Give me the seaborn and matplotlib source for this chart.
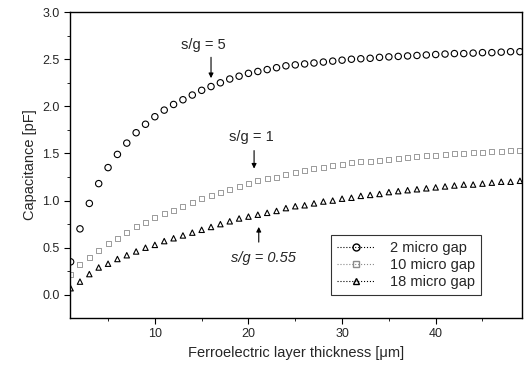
import matplotlib
matplotlib.use("Agg")
import matplotlib.pyplot as plt
from matplotlib.lines import Line2D
import seaborn as sns
import pandas as pd
import numpy as np

# Data
thickness = list(range(1, 50))

gap_2 = [0.35, 0.70, 0.97, 1.18, 1.35, 1.49, 1.61, 1.72, 1.81, 1.89,
         1.96, 2.02, 2.07, 2.12, 2.17, 2.21, 2.25, 2.29, 2.32, 2.35,
         2.37, 2.39, 2.41, 2.43, 2.44, 2.45, 2.46, 2.47, 2.48, 2.49,
         2.50, 2.505, 2.51, 2.52, 2.525, 2.53, 2.535, 2.54, 2.545, 2.55,
         2.555, 2.56, 2.56, 2.565, 2.57, 2.57, 2.575, 2.58, 2.58]

gap_10 = [0.22, 0.32, 0.40, 0.47, 0.54, 0.60, 0.66, 0.72, 0.77, 0.82,
          0.86, 0.90, 0.94, 0.98, 1.02, 1.05, 1.09, 1.12, 1.15, 1.18,
          1.21, 1.23, 1.25, 1.28, 1.30, 1.32, 1.34, 1.35, 1.37, 1.38,
          1.40, 1.41, 1.42, 1.43, 1.44, 1.45, 1.46, 1.47, 1.48, 1.48,
          1.49, 1.50, 1.50, 1.51, 1.51, 1.52, 1.52, 1.53, 1.53]

gap_18 = [0.07, 0.14, 0.22, 0.29, 0.33, 0.38, 0.42, 0.46, 0.50, 0.53,
          0.57, 0.60, 0.63, 0.66, 0.69, 0.72, 0.75, 0.78, 0.81, 0.83,
          0.85, 0.87, 0.89, 0.92, 0.94, 0.95, 0.97, 0.99, 1.00, 1.02,
          1.03, 1.05, 1.06, 1.07, 1.09, 1.10, 1.11, 1.12, 1.13, 1.14,
          1.15, 1.16, 1.17, 1.17, 1.18, 1.19, 1.20, 1.20, 1.21]

series_labels = ["2 micro gap", "10 micro gap", "18 micro gap"]

sns.set_style("ticks")
plt.rcParams['font.family'] = ['Liberation Sans', 'DejaVu Sans']

df = pd.DataFrame({"t": thickness, "g2": gap_2, "g10": gap_10, "g18": gap_18})

fig = plt.figure(figsize=(5.26, 3.67), dpi=100)
ax = fig.add_axes([0.133, 0.134, 0.859, 0.833])

sns.scatterplot(data=df, x="t", y="g2", marker="o", s=21, facecolors="none",
                edgecolor="black", linewidth=0.8, ax=ax)
sns.scatterplot(data=df, x="t", y="g10", marker="s", s=13, facecolors="none",
                edgecolor="#8a8a8a", linewidth=0.6, ax=ax)
sns.scatterplot(data=df, x="t", y="g18", marker="^", s=15, facecolors="none",
                edgecolor="black", linewidth=0.8, ax=ax)

ax.set_xlim(0.93, 49.2)
ax.set_ylim(-0.244, 3.0)
ax.set_xticks([10, 20, 30, 40])
ax.set_xticks([5, 15, 25, 35, 45], minor=True)
ax.set_yticks([0.0, 0.5, 1.0, 1.5, 2.0, 2.5, 3.0])
ax.set_yticks([0.25, 0.75, 1.25, 1.75, 2.25, 2.75], minor=True)
ax.yaxis.set_major_formatter(matplotlib.ticker.FormatStrFormatter("%.1f"))
ax.tick_params(which="major", length=4, width=0.8, labelsize=9, color="black")
ax.tick_params(which="minor", length=2, width=0.6, color="black")
for sp in ax.spines.values():
    sp.set_color("black")
    sp.set_linewidth(1.0)

ax.set_xlabel("Ferroelectric layer thickness [\u03bcm]", fontsize=10.5)
ax.set_ylabel("Capacitance [pF]", fontsize=10.5)

# annotations
ax.text(15.2, 2.65, "s/g = 5", ha="center", va="center", fontsize=10.5)
ax.annotate("", xy=(16, 2.27), xytext=(16, 2.55),
            arrowprops=dict(arrowstyle="-|>", color="black", lw=0.8, mutation_scale=7))
ax.text(20.3, 1.67, "s/g = 1", ha="center", va="center", fontsize=10.5)
ax.annotate("", xy=(20.6, 1.31), xytext=(20.6, 1.56),
            arrowprops=dict(arrowstyle="-|>", color="black", lw=0.8, mutation_scale=7))
ax.text(21.6, 0.39, "s/g = 0.55", ha="center", va="center", fontsize=10.5, style="italic")
ax.annotate("", xy=(21.1, 0.75), xytext=(21.1, 0.53),
            arrowprops=dict(arrowstyle="-|>", color="black", lw=0.8, mutation_scale=7))

handles = [
    Line2D([], [], color="black", linestyle=":", lw=0.8, marker="o",
           markerfacecolor="none", markeredgecolor="black", markersize=5),
    Line2D([], [], color="#8a8a8a", linestyle=":", lw=0.8, marker="s",
           markerfacecolor="none", markeredgecolor="#8a8a8a", markersize=4.5),
    Line2D([], [], color="black", linestyle=":", lw=0.8, marker="^",
           markerfacecolor="none", markeredgecolor="black", markersize=4.5),
]
leg = ax.legend(handles, series_labels, loc="center",
                bbox_to_anchor=(0.553, 0.062, 0.381, 0.222), fontsize=10.5,
                frameon=True, fancybox=False, handlelength=2.6,
                labelspacing=0.2, borderpad=0.4, handletextpad=1.0)
leg.get_frame().set_edgecolor("black")
leg.get_frame().set_linewidth(0.8)

fig.savefig("out.png", dpi=100)
